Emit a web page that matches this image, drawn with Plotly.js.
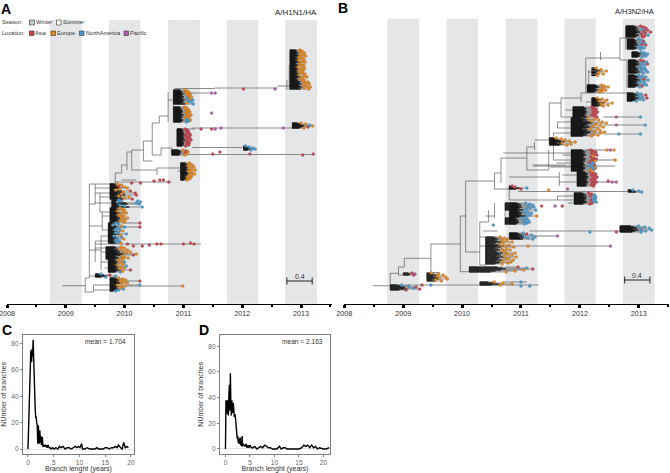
<!DOCTYPE html>
<html><head><meta charset="utf-8">
<script src="https://cdn.plot.ly/plotly-3.0.1.min.js"></script>
<style>html,body{margin:0;padding:0;background:#fff}#c{width:670px;height:473px}</style></head>
<body><div id="c"></div>
<script>
// Winter seasons (decimal years)
const winterStart=[2008.73,2009.735,2010.74,2011.74,2012.73];
const winterEnd=[2009.27,2010.27,2011.28,2012.27,2013.27];
const yearTicks=[2008,2009,2010,2011,2012,2013];
const halfTicks=[2008.5,2009.5,2010.5,2011.5,2012.5,2013.5];
const locColors={A:'#d23f48',E:'#f28a14',N:'#459fd6',P:'#b55cab'};
// Clades: stem year, first row, row spacing, base year, tips (hundredths of a year after base), tip locations
const cladesA=[
[2012.81,50,1,2012,[98,102,100,106,99,104,108,97,101,105,96,103,107,100,98,105,102,95,106,100,104,98,103,101,107,97,105,110,102,100,106,104,112,108,114,105,110,116,106,113],'EEEEEEEEEEEEEEEEEEEEEEEEEEEEEEEEEEEEEEEE'],
[2010.83,90,1,2011,[3,6,9,5,12,8,10,14,7,11,16,9,13,6,17],'EEEEEEEENENNNEN'],
[2010.83,107,1,2011,[2,6,4,9,7,11,5,8,13,6,10,4,7,12,9,5],'EEEEEEEEEEEENENN'],
[2010.89,129,1,2011,[3,6,8,5,10,7,12,4,9,11,6,13,8,5,10,7,9,4],'AAAAAAAAAAAAAAAAAA'],
[2010.8,150,1,2011,[0,5,8,3,6,2],'EAEAEE'],
[2012.02,146,1,2012,[6,12,18,22,15],'NNNNN'],
[2012.85,123,1,2012,[100,108,115,120,112,105],'EENEAE'],
[2010.95,163,1,2011,[10,12,15,8,18,11,14,20,9,13,16,19,10,14,7,12,9,6],'EEEEEEEEEEEEEEEEEE'],
[2009.75,184,1,2009,[88,95,90,100,105,92,85,110,98,118,95,120,90,108,100,113],'EEAEEEEAEAEAEEEA'],
[2009.78,200,1,2009,[90,95,88,120,125,92,100,130],'NNNNNNNN'],
[2009.75,208,1,2009,[92,96,100,88,98,103,95,90,99,94,105,97,101,93,100],'EEEEEEEEEEEEEEE'],
[2009.72,223,1,2009,[85,90,80,95,100,88,92,84,97,90,86,103,93,82,95,88,99,85,91,87,94],'NNNENNNNENNNENNNENNNE'],
[2009.68,247,1,2009,[95,100,92,105,98,110,103,120,115,95,100,106,97],'EEEEEEEEAEEEE'],
[2009.72,260,1,2009,[90,96,100,93,98,88,103,95,100,92,110,97,93],'EENEEENEEEAEN'],
[2009.5,274,1,2009,[60,75,85,68],'NANN'],
[2009.75,278,1,2009,[90,97,102,93,99,105,95,88,101,96,92,98,90,85],'EEEEEEEEEEENNN']
];
const hBranchesA=[[2009.33,2009.47,292],[2009.33,2009.4,278],[2009.4,2009.5,184],[2009.4,2009.5,204],[2009.4,2009.62,226],[2009.4,2009.6,250],[2009.4,2009.5,276],
[2009.5,2009.84,184],[2009.84,2009.95,173],[2009.95,2010.04,165],[2010.04,2010.12,152],[2010.12,2010.32,150],[2010.32,2010.47,141],[2010.32,2010.47,161],[2010.47,2010.59,123],[2010.59,2010.74,116],[2010.47,2010.62,155],[2010.62,2010.8,148],[2010.74,2010.83,100],[2010.9,2010.95,171],
[2010.12,2010.55,170],[2010.55,2010.95,168],[2010.83,2011.48,93],[2010.89,2011.2,129],
[2009.5,2009.75,188],[2009.5,2009.75,193],[2009.58,2009.75,197],[2009.5,2009.78,203],[2009.58,2009.75,212],[2009.62,2009.75,216],[2009.62,2009.72,230],[2009.6,2009.72,236],[2009.5,2009.72,241],[2009.5,2009.68,248],[2009.6,2009.68,252],[2009.6,2009.72,262],[2009.66,2009.72,268],[2009.47,2009.75,285],[2009.47,2009.75,290]];
const vBranchesA=[[2009.33,278,292],[2009.4,184,278],[2009.5,184,204],[2009.84,173,184],[2009.95,165,173],[2010.04,152,170],[2010.12,150,170],[2010.32,141,161],[2010.47,123,155],[2010.59,116,123],[2010.74,92,122],[2010.83,90,122],[2010.89,129,146],[2010.62,148,155],[2010.8,148,155],[2010.55,168,175],[2012.8,65,90],[2012.76,80,90],
[2009.58,193,212],[2009.62,212,230],[2009.5,241,262],[2009.6,236,270],[2009.47,285,292]];
const thickA=[[2008.94,2009.33,285.7],[2009.5,2011.3,244],[2010.85,2011.53,88.5],[2011.53,2012.6,88],[2012.6,2012.81,86],[2011.14,2012.75,128],[2012.75,2013,128],[2011.15,2012,147.5],[2011.08,2013.21,154.5],[2009.84,2010.8,182],[2009.95,2010.2,180],[2009.95,2010.27,223],[2009.95,2010.27,227],[2010,2011,286],[2010.0,2010.26,281],[2010,2010.26,285]];
const looseA=[[2011.48,93,'P'],[2011.54,93,'P'],[2011.48,113,'P'],[2012.02,89,'A'],[2012.56,89,'P'],[2011.3,129,'A'],[2011.48,129,'A'],[2011.54,129,'P'],[2011.64,128,'P'],[2012.7,128,'P'],[2011.5,154,'A'],[2011.62,152,'A'],[2012.13,154,'A'],[2013.03,155,'A'],[2013.21,154,'A'],[2010.27,183,'A'],[2010.5,181,'A'],[2010.6,180,'A'],[2010.66,180,'A'],[2010.75,182,'A'],[2010.12,183,'A'],[2010.26,223,'A'],[2010.26,227,'A'],[2010.22,201,'N'],[2010.27,202,'N'],[2010.05,244,'A'],[2010.15,246,'A'],[2010.3,246,'A'],[2010.42,245,'A'],[2010.55,244,'A'],[2010.62,244,'A'],[2011,244,'A'],[2011.12,243,'A'],[2011.18,244,'A'],[2010.26,281,'A'],[2010.26,285,'N'],[2010.99,286,'E']];

const cladesB=[
[2012.78,26,1,2012,[103,108,112,106,115,109,120,111,105,116,110,107],'AAANAAAAANAA'],
[2012.8,39,1,2012,[100,104,108,103,110,106,112,101,105,109,103],'NNANNAANNNN'],
[2012.88,52,1,2012,[105,110,115,108,112,106],'NNNNNN'],
[2012.82,60,1,2012,[103,108,113,106,115,110,104],'AANNANN'],
[2012.82,67,1,2012,[102,110,106,112,104,115,108],'NNNNNNN'],
[2012.82,75,1,2012,[100,106,112,103,109,116,104,110,101,108,113,106,102],'NNNNANNNNNNAN'],
[2012.2,68,1.5,2012,[28,36,45,32,40,30],'EEEEEE'],
[2012.12,85,1,2012,[37,42,48,40,36,44,38,34],'EEEEEEEE'],
[2012.8,93,1,2012,[98,104,112,100,106,114,102,108,96],'NNANNANNN'],
[2012.2,98,1,2012,[30,38,46,33,42,55,36,48,40],'EEEEEEEEE'],
[2011.88,107,1,2012,[20,24,28,22,26,30,23,27,21,25,29],'AAAAAAAAAAA'],
[2011.85,118,1,2012,[15,25,32,20,38,45,28,35,22,40,30,18,34,26,42,36,24,31,20],'EEEEEEEEEEEEEEEEEEE'],
[2011.48,138,1,2011,[60,68,75,82,92,70,85,78],'EEEEEEEE'],
[2011.85,150,1,2012,[18,22,27,20,25,29,23,19,24,28,21,26,17,23,20,25,18,22,27,24,19,21],'AAAAAAEAAAAEANNANNENEE'],
[2011.95,172,1,2012,[18,23,27,20,25,29,22,26,19,24,28,21,25,20,23],'AAAAAAAAAAAAAAA'],
[2010.8,186,1,2010,[85,90,110,100],'AANA'],
[2011.9,193,1,2012,[15,20,25,18,27,22,26,19,24,28,21,17],'AANANNNANNAA'],
[2012.82,190,1,2012,[90,100,105],'NNN'],
[2010.73,203,1,2011,[8,15,20,12,22,16,10,25],'NNNNNNNN'],
[2010.8,211,1,2011,[5,12,18,8,15,27,10],'NNNNNENN'],
[2010.73,218,1,2011,[2,8,12,5,14,10,6],'NNNNNNN'],
[2010.8,233,1,2011,[4,10,18,6,24,12,20],'NANNNNN'],
[2012.68,226,1,2012,[100,110,118,105,122,112,104],'NNNNNNN'],
[2010.4,237,1,2010,[65,72,78,68,75,85,70,64,80,73,88,67,76,82,70,74,90,78,85,72,92,80,75,87,70,83,78,68],'EEEEEEEEEEEEEEEEEEEEEEEEEEEE'],
[2010.12,267,1,2010,[95,110,120,105,90,75],'ANAEEE'],
[2009.4,273,1,2009,[48,60,68,58,72,62,75,55,65],'EEEEEEEEE'],
[2009.0,273,1,2009,[15,20,18],'APA'],
[2008.78,285,1,2008,[97,110,122,118,128,105],'NNANAA'],
[2010.3,282,1,2010,[55,70,85,65],'EEEE']
];
const hBranchesB=[[2008.78,2008.92,273.3],[2008.92,2009.02,267],[2008.92,2009.0,275],[2009.02,2009.47,258.3],[2009.47,2009.97,244],[2009.47,2009.62,272.5],[2009.97,2010.06,216],[2009.97,2010.12,271.7],[2010.06,2010.3,252],[2010.06,2010.55,181],[2010.3,2010.4,265],[2010.3,2010.4,237],[2010.35,2010.6,231],[2010.3,2010.45,222],[2010.4,2010.55,216],[2010.55,2010.66,173],[2010.55,2010.8,189],[2010.66,2011.1,158],[2011.1,2011.47,170],[2011.1,2011.23,147],[2011.23,2011.48,140],[2011.48,2011.68,103],[2011.68,2011.92,117],[2011.68,2012.02,98],[2012.02,2012.1,93],[2012.1,2012.2,102],[2012.1,2012.8,93],[2012.1,2012.35,58],[2012.35,2012.68,58],[2012.68,2012.8,38],[2012.68,2012.8,60],[2012.15,2012.4,72],[2012.15,2012.2,87],[2010.7,2011.85,153],[2011.2,2011.75,165],[2010.8,2011.65,177],[2011.65,2011.95,182],[2010.8,2011.9,200],[2011.5,2011.9,167],
[2011.75,2011.88,110],[2011.62,2011.85,122],[2011.62,2011.85,128],[2011.55,2011.85,133],[2011.7,2011.85,155],[2011.55,2011.85,160],[2011.6,2011.85,163],[2011.7,2011.95,175],[2011.62,2011.9,196],[2011.8,2011.9,203]];
const vBranchesB=[[2008.78,273,290],[2008.92,267,275],[2009.02,258,267],[2009.47,244,273],[2009.97,216,272],[2010.06,181,252],[2010.3,222,265],[2010.4,237,265],[2010.55,173,189],[2010.66,158,183],[2011.1,147,170],[2011.23,142,150],[2011.48,103,140],[2011.68,98,117],[2012.02,93,102],[2012.1,58,93],[2012.68,38,60],[2012.35,52,60],[2010.8,187,200],[2010.73,203,225],[2010.45,210,222],[2010.55,203,218],[2012.78,26,50],[2012.8,60,88],[2012.15,70,90],[2011.65,172,186],[2011.47,150,170],[2011.85,118,137],[2012.68,226,232],[2012.82,189,193],[2011.62,122,128],[2011.55,133,160],[2011.62,196,200]];
const thickB=[[2008.48,2008.78,285.7],[2008.78,2011.3,285],[2011.14,2012.68,231],[2010.95,2012.82,191.5],[2010.3,2012.5,246],[2011.2,2012.6,166],[2012.4,2013.03,117],[2012.4,2013.11,125],[2012.4,2013.03,134],[2011.2,2011.6,236],[2010.7,2011.1,282],[2012.3,2012.62,182],[2012.2,2012.6,160],[2012.1,2012.52,150]];
const looseB=[[2013.03,117,'N'],[2012.62,117,'P'],[2013.11,125,'N'],[2012.62,125,'P'],[2013.03,134,'N'],[2012.66,134,'N'],[2012.52,150,'P'],[2012.58,150,'E'],[2012.46,150,'E'],[2012.6,160,'E'],[2012.55,182,'P'],[2012.62,182,'P'],[2012.48,181,'A'],[2011.79,189,'P'],[2011.47,190,'E'],[2011.7,206,'A'],[2011.58,206,'P'],[2011.35,206,'A'],[2012.17,232,'N'],[2012.62,232,'A'],[2011.62,236,'P'],[2011.12,246,'E'],[2012.52,246,'P'],[2010.53,225,'N'],[2011.0,282,'N'],[2011.0,286,'N'],[2011.15,286,'N'],[2009.47,285,'N'],[2009.32,285,'A']];

// Histograms
const lenC=[0,.1,.25,.4,.55,.7,.8,.9,1,1.1,1.2,1.3,1.4,1.5,1.6,1.7,1.8,1.9,2,2.1,2.2,2.3,2.4,2.5,2.6,2.7,2.8,2.9,3,3.1,3.3,3.5,3.7,3.9,4.1,4.3,4.5,4.8,5.1,5.4,5.8,6.1,6.4,6.8,7.2,7.6,8,8.4,8.8,9.2,9.5,9.8,10.1,10.4,10.6,11,11.5,12,12.5,13,13.4,13.7,14,14.6,15,15.4,15.8,16.2,16.6,17,17.3,17.6,18,18.3,18.6,18.9,19.2,19.5];
const countC=[0,20,42,55,75,66,76,70,83,65,52,42,30,24,24,20,18,4,18,12,4,14,5,10,3,5,9,2,2,3,2,3,1,3,1,1,0,1,0,1,0,2,1,2,0,1,1,0,1,2,1,2,1,4,0,0,1,0,0,0,1,0,0,0,1,1,0,1,1,2,1,3,1,0,5,1,2,1];
const lenD=[0,.1,.2,.3,.4,.5,.6,.7,.8,.9,1,1.1,1.2,1.3,1.4,1.5,1.6,1.7,1.8,1.9,2,2.1,2.2,2.3,2.4,2.5,2.6,2.7,2.8,3,3.1,3.2,3.3,3.4,3.5,3.6,3.8,4,4.2,4.4,4.6,4.8,5,5.3,5.6,6,6.4,6.8,7.2,7.6,8,8.4,8.8,9.2,9.6,10,10.5,11,11.4,11.8,12.2,12.6,13,14,15,15.6,16,16.4,16.8,17.2,17.6,18,18.4,18.8,19.2,20,20.6,21.2];
const countD=[0,38,30,38,27,38,26,42,50,30,59,35,26,38,30,28,36,30,25,27,26,20,14,12,8,10,5,8,4,9,3,6,2,10,2,4,3,2,4,1,3,1,3,1,1,2,0,1,2,1,3,2,1,1,0,0,0,2,0,1,1,0,0,0,0,1,3,2,3,1,3,1,2,0,1,0,0,1];

const traces=[], shapes=[], annotations=[];
function addTree(ax,ay,clades,hb,vb,thick,loose){
  const lx=[],ly=[],rx=[],ry=[],bx=[],by=[],gx=[],gy=[],mk={A:[[],[]],E:[[],[]],N:[[],[]],P:[[],[]]};
  hb.forEach(b=>{lx.push(b[0],b[1],null);ly.push(b[2],b[2],null)});
  vb.forEach(b=>{lx.push(b[0],b[0],null);ly.push(b[1],b[2],null)});
  thick.forEach(b=>{gx.push(b[0],b[1],null);gy.push(b[2],b[2],null)});
  clades.forEach(c=>{
    const [stem,top,step,base,tips,loc]=c;
    tips.forEach((t,i)=>{
      const x=base+t/100,y=top+i*step;
      rx.push(stem,x,null);ry.push(y,y,null);
      bx.push(stem,stem+(x-stem)*.58,null);by.push(y,y,null);
      mk[loc[i]][0].push(x);mk[loc[i]][1].push(y);
    });
    lx.push(stem,stem,null);ly.push(top,top+(tips.length-1)*step,null);
  });
  loose.forEach(p=>{mk[p[2]][0].push(p[0]);mk[p[2]][1].push(p[1])});
  const base={xaxis:ax,yaxis:ay,hoverinfo:'skip',showlegend:false};
  traces.push({...base,type:'scatter',mode:'lines',x:gx,y:gy,line:{color:'#8a8a8a',width:1.1}});
  traces.push({...base,type:'scatter',mode:'lines',x:lx,y:ly,line:{color:'#444',width:.6}});
  traces.push({...base,type:'scatter',mode:'lines',x:rx,y:ry,line:{color:'#333',width:.5}});
  traces.push({...base,type:'scatter',mode:'lines',x:bx,y:by,line:{color:'#000',width:1.2}});
  Object.keys(mk).forEach(k=>traces.push({...base,type:'scatter',mode:'markers',x:mk[k][0],y:mk[k][1],
    marker:{size:3,color:locColors[k],line:{color:'#555',width:.2}}}));
}
addTree('x','y',cladesA,hBranchesA,vBranchesA,thickA,looseA);
addTree('x2','y',cladesB,hBranchesB,vBranchesB,thickB,looseB);
traces.push({xaxis:'x3',yaxis:'y3',type:'scatter',mode:'lines',x:lenC,y:countC,line:{color:'#000',width:1.4},hoverinfo:'skip',showlegend:false});
traces.push({xaxis:'x4',yaxis:'y4',type:'scatter',mode:'lines',x:lenD,y:countD,line:{color:'#000',width:1.4},hoverinfo:'skip',showlegend:false});

['x','x2'].forEach((xr,k)=>{
  winterStart.forEach((s,i)=>shapes.push({type:'rect',xref:xr,yref:'y',x0:s,x1:winterEnd[i],y0:k?18.7:20,y1:303.7,fillcolor:'#e5e6e8',line:{width:0},layer:'below'}));
  const bar=k?[2012.76,2013.19,280,275]:[2012.76,2013.19,281,276];
  shapes.push({type:'line',xref:xr,yref:'y',x0:bar[0],x1:bar[1],y0:bar[2],y1:bar[2],line:{color:'#222',width:1}});
  [bar[0],bar[1]].forEach(v=>shapes.push({type:'line',xref:xr,yref:'y',x0:v,x1:v,y0:bar[2]-3.5,y1:bar[2]+3.5,line:{color:'#222',width:1}}));
  annotations.push({xref:xr,yref:'y',x:(bar[0]+bar[1])/2,y:bar[3],text:'0.4',showarrow:false,font:{size:7,color:'#333'}});
});
const F='"Liberation Sans",Arial,sans-serif';
function px(x,y,text,size,anchor,color,bold){
  annotations.push({xref:'paper',yref:'paper',x:x/670,y:1-y/473,text:bold?'<b>'+text+'</b>':text,showarrow:false,xanchor:anchor||'left',yanchor:'middle',
    font:{size:size,color:color||'#333',family:F},borderpad:0,borderwidth:0});
}
function swatch(x0,x1,y0,y1,fill){
  shapes.push({type:'rect',xref:'paper',yref:'paper',x0:x0/670,x1:x1/670,y0:1-y0/473,y1:1-y1/473,fillcolor:fill,line:{color:'#333',width:.6}});
}
px(1,9,'A',14,'left','#000',true);px(338,8,'B',14,'left','#000',true);px(2,330,'C',14,'left','#000',true);px(199,330,'D',14,'left','#000',true);
px(317,13,'A/H1N1/HA',8,'right','#222');px(654,12,'A/H3N2/HA',7.5,'right','#222');
px(2,22,'Season:',5.6);px(2,33,'Location:',5.6);
swatch(29.5,34.5,20,25,'#c8c8c8');px(35.5,22.3,'Winter',5.6);swatch(56.5,61,20,25,'#fff');px(62.5,22.3,'Summer',5.6);
swatch(29.5,34,31,35.5,locColors.A);px(35,33,'Asia',5.6);swatch(51,55.5,31,35.5,locColors.E);px(57,33,'Europe',5.6);
swatch(79.3,84,31,35.5,locColors.N);px(85.5,33,'NorthAmerica',5.6);swatch(124,128.5,31,35.5,locColors.P);px(130,33,'Pacific',5.6);
px(125.7,341.7,'mean = 1.704',6.6,'right');px(323,341.7,'mean = 2.163',6.6,'right');

const treeX=(dom,r)=>({domain:dom,range:r,anchor:'free',position:1-303.7/473,showgrid:false,zeroline:false,showline:true,linecolor:'#000',linewidth:1.4,
  tickmode:'array',tickvals:yearTicks,ticks:'outside',ticklen:2.5,tickwidth:3,tickcolor:'#000',tickformat:'d',ticklabeloverflow:'allow',tickfont:{size:7.2,color:'#333',family:F},
  minor:{tickmode:'array',tickvals:halfTicks,ticks:'outside',ticklen:1.5,tickwidth:2,tickcolor:'#000',showgrid:false}});
const histX=(dom,r,anc,tv)=>({domain:dom,range:r,anchor:anc,showgrid:false,zeroline:false,showline:true,mirror:true,linecolor:'#7f7f7f',linewidth:1,
  tickmode:'array',tickvals:tv,ticks:'outside',ticklen:2,tickwidth:.8,tickcolor:'#666',tickfont:{size:6.6,color:'#666',family:F},
  title:{text:'Branch lenght (years)',font:{size:7,color:'#333',family:F},standoff:5}});
const histY=(r,anc,tv)=>({domain:[1-454/473,1-334.7/473],range:r,anchor:anc,showgrid:false,zeroline:true,zerolinecolor:'#e2e2e2',zerolinewidth:1,showline:true,mirror:true,linecolor:'#7f7f7f',linewidth:1,
  tickmode:'array',tickvals:tv,ticks:'outside',ticklen:2,tickwidth:.8,tickcolor:'#666',tickfont:{size:6.6,color:'#666',family:F},
  title:{text:'NUmber of branches',font:{size:7,color:'#333',family:F},standoff:3}});
Plotly.newPlot('c',traces,{
  width:670,height:473,margin:{l:0,r:0,t:0,b:0},paper_bgcolor:'#fff',plot_bgcolor:'rgba(0,0,0,0)',font:{family:F},showlegend:false,
  xaxis:treeX([7/670,332/670],[2008,2013.527]),
  xaxis2:treeX([344.3/670,669/670],[2008,2013.513]),
  yaxis:{domain:[0,1],range:[473,0],visible:false},
  xaxis3:histX([23/670,134/670],[-.97,20.6],'y3',[0,5,10,15,20]),
  yaxis3:histY([-3.8,86.8],'x3',[0,20,40,60,80]),
  xaxis4:histX([220/670,330/670],[-1.12,21.35],'y4',[0,5,10,15,20]),
  yaxis4:histY([-3.9,89],'x4',[0,20,40,60,80]),
  shapes,annotations
},{staticPlot:true,displayModeBar:false});
</script></body></html>
